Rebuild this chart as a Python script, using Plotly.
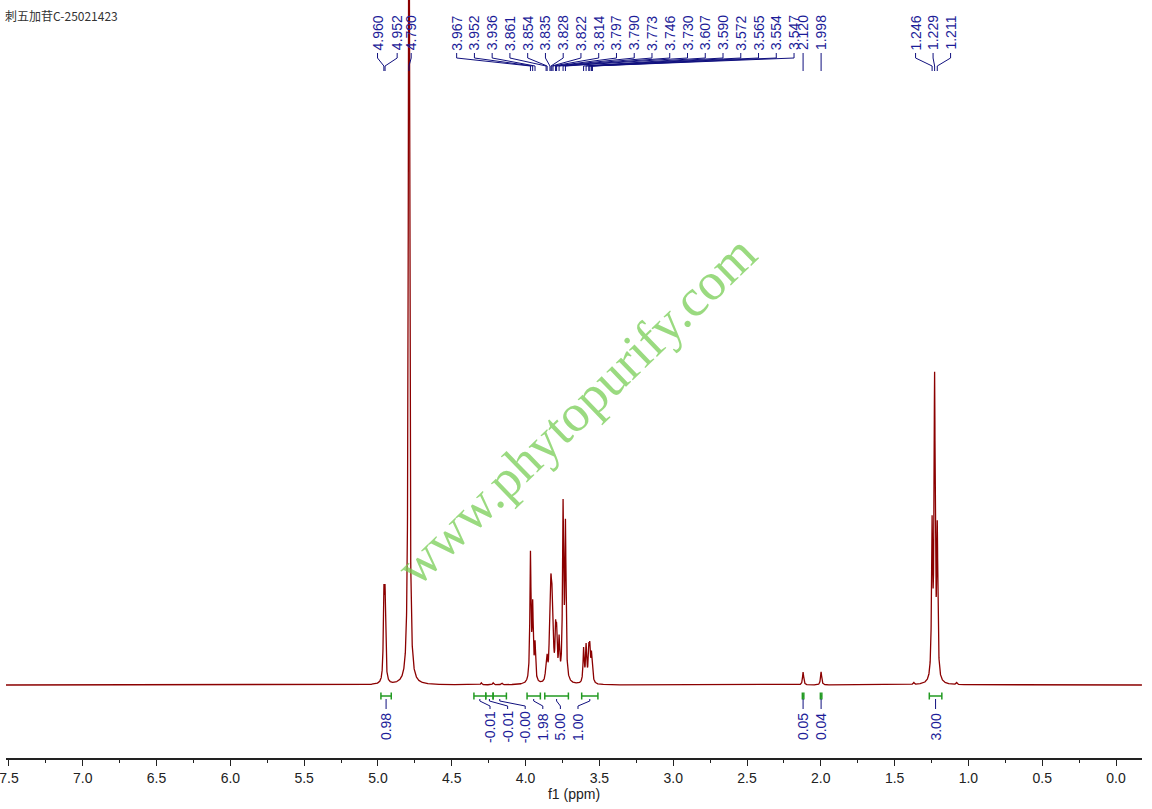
import numpy as np
import plotly.graph_objects as go

# ---------------- data ----------------
title_text = "刺五加苷C-25021423"

peak_ppm = [4.960, 4.952, 4.790, 3.967, 3.952, 3.936, 3.861, 3.854, 3.835, 3.828,
            3.822, 3.814, 3.797, 3.790, 3.773, 3.746, 3.730, 3.607, 3.590, 3.572,
            3.565, 3.554, 3.547, 2.120, 1.998, 1.246, 1.229, 1.211]
peak_int = [80, 80, 1000, 127, 72, 36, 15, 18, 70, 62,
            60, 40, 43, 40, 38, 172, 152, 34, 36, 29,
            29, 24, 12, 13, 13, 148, 295, 145]

# tiny baseline bumps visible in the trace
minor_ppm = [4.30, 4.22, 4.16, 1.37, 1.08]
minor_int = [2, 2, 1.5, 2, 2]

int_from = [4.98, 4.35, 4.27, 4.22, 3.99, 3.87, 3.62, 2.125, 2.003, 1.265]
int_to = [4.91, 4.27, 4.22, 4.13, 3.90, 3.71, 3.51, 2.115, 1.993, 1.18]
int_val = ["0.98", "-0.01", "-0.01", "-0.00", "1.98", "5.00", "1.00", "0.05", "0.04", "3.00"]

x_ticks = [7.5, 7.0, 6.5, 6.0, 5.5, 5.0, 4.5, 4.0, 3.5, 3.0, 2.5, 2.0, 1.5, 1.0, 0.5, 0.0]

# ---------------- layout constants ----------------
X_RANGE = [7.52, -0.176]
HWHM = 0.0045
LINE_COLOR = "#8b0000"
LABEL_COLOR = "#1c1c98"
CONN_COLOR = "#10107e"
INT_COLOR = "#229a22"

# label groups: (peak indices, first label ppm or None for "at peak", step ppm)
peak_label_groups = [
    ([0, 1], 5.003, 0.133),
    ([2], 4.775, 0.0),
    (list(range(3, 23)), 4.467, 0.1203),
    ([23], None, 0.0),
    ([24], None, 0.0),
    ([25, 26, 27], 1.358, 0.1186),
]
int_label_groups = [
    ([0], None, 0.0),
    ([1, 2, 3, 4, 5, 6], 4.241, 0.1192),
    ([7], None, 0.0),
    ([8], None, 0.0),
    ([9], None, 0.0),
]

# ---------------- spectrum ----------------
x = np.arange(X_RANGE[0], X_RANGE[1], -0.0005)
y = np.zeros_like(x)
for p, a in zip(peak_ppm + minor_ppm, peak_int + minor_int):
    w = HWHM if a < 900 else 0.0045
    y += a / (1 + ((x - p) / w) ** 2)

fig = go.Figure()
fig.add_trace(go.Scatter(x=x, y=y, mode="lines",
                         line=dict(color=LINE_COLOR, width=1.3),
                         hoverinfo="skip", yaxis="y"))

annotations = []

# ---- peak labels + connectors ----
cx, cy = [], []
for idxs, start, step in peak_label_groups:
    for k, i in enumerate(idxs):
        p = peak_ppm[i]
        lx = p if start is None else start - k * step
        annotations.append(dict(x=lx, y=33, xref="x", yref="y2", text=f"{p:.3f}",
                                textangle=-90, showarrow=False,
                                font=dict(family="Liberation Sans", size=14, color=LABEL_COLOR),
                                xanchor="center", yanchor="middle"))
        cx += [lx, lx, p, p, None]
        cy += [53, 58, 66, 71, None]
fig.add_trace(go.Scatter(x=cx, y=cy, mode="lines", yaxis="y2",
                         line=dict(color=CONN_COLOR, width=1), hoverinfo="skip"))

# ---- integrals ----
gx, gy, bx, by = [], [], [], []
for idxs, start, step in int_label_groups:
    for k, i in enumerate(idxs):
        a, b = int_from[i], int_to[i]
        c = (a + b) / 2
        lx = c if start is None else start - k * step
        gx += [a, b, None, a, a, None, b, b, None]
        gy += [696, 696, None, 692.5, 699.5, None, 692.5, 699.5, None]
        bx += [c, c, lx, lx, None]
        by += [699, 701, 706, 709, None]
        annotations.append(dict(x=lx, y=727, xref="x", yref="y2", text=int_val[i],
                                textangle=-90, showarrow=False,
                                font=dict(family="Liberation Sans", size=14, color=LABEL_COLOR),
                                xanchor="center", yanchor="middle"))
fig.add_trace(go.Scatter(x=gx, y=gy, mode="lines", yaxis="y2",
                         line=dict(color=INT_COLOR, width=1.5), hoverinfo="skip"))
fig.add_trace(go.Scatter(x=bx, y=by, mode="lines", yaxis="y2",
                         line=dict(color=CONN_COLOR, width=1), hoverinfo="skip"))

# ---- watermark ----
annotations.append(dict(x=(576 - 6) / 1136, y=410, xref="paper", yref="y2",
                        text="www.phytopurify.com", textangle=-44, showarrow=False,
                        font=dict(family="Liberation Serif", size=53, color="rgba(120,205,85,0.75)"),
                        xanchor="center", yanchor="middle"))

fig.update_layout(
    width=1152, height=809,
    margin=dict(l=6, r=10, t=0, b=51),
    paper_bgcolor="white", plot_bgcolor="white",
    showlegend=False,
    title=dict(text=title_text, x=5 / 1152, xref="container", xanchor="left",
               y=1 - 17 / 809, yref="container", yanchor="middle",
               font=dict(family="Noto Sans CJK SC", size=12, color="#333333")),
    xaxis=dict(range=X_RANGE, tickvals=x_ticks, ticktext=[f"{t:.1f}" for t in x_ticks],
               showgrid=False, zeroline=False, showline=True, linecolor="#222222", linewidth=1.5,
               ticks="outside", ticklen=6, tickwidth=1.3, tickcolor="#222222",
               ticklabeloverflow="allow",
               minor=dict(dtick=0.25, tick0=0, ticks="outside", ticklen=3, tickcolor="#222222", showgrid=False),
               tickfont=dict(family="Liberation Sans", size=14, color="#222222"),
               title=dict(text="f1 (ppm)", font=dict(family="Liberation Sans", size=14, color="#222222"),
                          standoff=2)),
    yaxis=dict(range=[-73, 685], visible=False, fixedrange=True),
    yaxis2=dict(range=[758, 0], overlaying="y", visible=False, fixedrange=True),
    annotations=annotations,
)

fig.write_html("out.html", config={"displayModeBar": False},
               post_script="document.body.style.margin='0';document.body.style.overflow='hidden';")
